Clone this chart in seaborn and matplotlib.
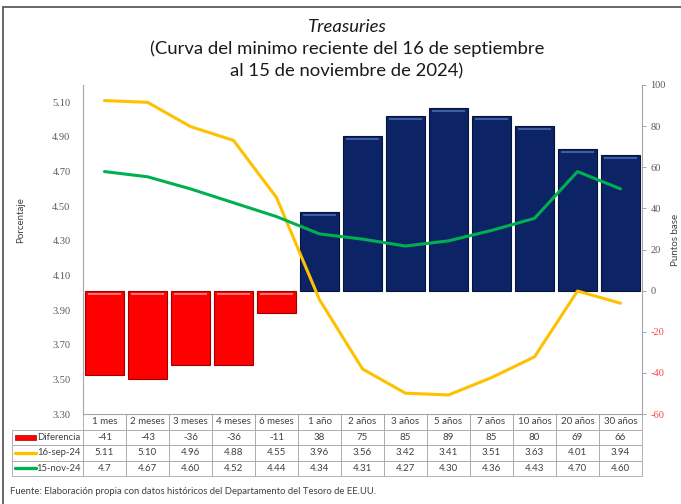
import numpy as np
import pandas as pd
import matplotlib
matplotlib.use("Agg")
import matplotlib.pyplot as plt
import seaborn as sns
from matplotlib.lines import Line2D
from matplotlib.patches import Rectangle

# --- data -------------------------------------------------------------
categories = ["1 mes", "2 meses", "3 meses", "4 meses", "6 meses", "1 año", "2 años",
              "3 años", "5 años", "7 años", "10 años", "20 años", "30 años"]
diferencia = [-41, -43, -36, -36, -11, 38, 75, 85, 89, 85, 80, 69, 66]
sep16_txt = ["5.11", "5.10", "4.96", "4.88", "4.55", "3.96", "3.56",
             "3.42", "3.41", "3.51", "3.63", "4.01", "3.94"]
nov15_txt = ["4.7", "4.67", "4.60", "4.52", "4.44", "4.34", "4.31",
             "4.27", "4.30", "4.36", "4.43", "4.70", "4.60"]
series_names = ["Diferencia", "16-sep-24", "15-nov-24"]
left_ticks = [3.30, 3.50, 3.70, 3.90, 4.10, 4.30, 4.50, 4.70, 4.90, 5.10]
right_ticks = [-60, -40, -20, 0, 20, 40, 60, 80, 100]

sep16 = [float(s) for s in sep16_txt]
nov15 = [float(s) for s in nov15_txt]

# --- style ------------------------------------------------------------
sns.set_theme(style="white")
plt.rcParams["font.family"] = ["Lato", "DejaVu Sans"]

RED, RED_EDGE, RED_HI = "#ff0000", "#a00000", "#ff8a8a"
NAVY, NAVY_EDGE, NAVY_HI = "#0c2466", "#06143c", "#4a68b0"
YELLOW, GREEN = "#ffc000", "#00b050"
GRID_GRAY = "#a6a6a6"
TXT = "#404040"

W, H = 681, 504
fig = plt.figure(figsize=(W / 100, H / 100), dpi=100)
fig.patch.set_facecolor("white")


def fx(px):
    return px / W


def fy(py):
    return 1 - py / H


AX_L, AX_R, AX_T, AX_B = 83, 642, 85, 414
ax_b = fig.add_axes([fx(AX_L), fy(AX_B), fx(AX_R - AX_L), (AX_B - AX_T) / H])
ax_l = ax_b.twinx()  # yields (left scale), drawn above the bars

# --- bars: difference in basis points (right scale) --------------------
df = pd.DataFrame({"plazo": categories, "dif": diferencia,
                   "signo": ["neg" if d < 0 else "pos" for d in diferencia]})
sns.barplot(data=df, x="plazo", y="dif", hue="signo",
            palette={"neg": RED, "pos": NAVY}, dodge=False, width=0.9,
            ax=ax_b, legend=False, saturation=1)
ax_b.set_ylim(-60, 100)
ax_b.set_xlim(-0.5, len(categories) - 0.5)

px_unit = 160 / (AX_B - AX_T)  # data units per pixel on the bar scale
for p in list(ax_b.patches):
    h = p.get_height()
    if h == 0:
        continue
    neg = h < 0
    p.set_edgecolor(RED_EDGE if neg else NAVY_EDGE)
    p.set_linewidth(0.8)
    x0, w = p.get_x(), p.get_width()
    top = max(p.get_y(), p.get_y() + h)
    ax_b.add_patch(Rectangle((x0 + 0.07 * w, top - 4.0 * px_unit), 0.86 * w, 2.0 * px_unit,
                             facecolor=RED_HI if neg else NAVY_HI, edgecolor="none",
                             alpha=0.85, zorder=p.get_zorder() + 0.1))

ax_b.yaxis.tick_right()
ax_b.yaxis.set_label_position("right")
ax_b.set_yticks(right_ticks)
ax_b.set_yticklabels([str(t) for t in right_ticks], family="Liberation Serif", fontsize=7.5)
for lab, t in zip(ax_b.get_yticklabels(), right_ticks):
    lab.set_color("#ff4040" if t < 0 else "#595959")
ax_b.tick_params(axis="y", which="both", left=False, right=True, labelleft=False,
                 labelright=True, length=3, width=0.7, color=GRID_GRAY, pad=3)
ax_b.set_ylabel("Puntos base", fontsize=7, color=TXT, rotation=90)
ax_b.yaxis.set_label_coords(1.052, 0.53)
ax_b.set_xticks(range(len(categories)))
ax_b.set_xticklabels([])
ax_b.tick_params(axis="x", length=0)
ax_b.set_xlabel("")

# --- lines: yields in percent (left scale) ----------------------------
xpos = np.arange(len(categories))
sns.lineplot(x=xpos, y=sep16, ax=ax_l, color=YELLOW, linewidth=2.2, sort=False)
sns.lineplot(x=xpos, y=nov15, ax=ax_l, color=GREEN, linewidth=2.2, sort=False)
ax_l.set_ylim(3.30, 5.20)
ax_l.set_xlim(-0.5, len(categories) - 0.5)
ax_l.yaxis.tick_left()
ax_l.yaxis.set_label_position("left")
ax_l.set_yticks(left_ticks)
ax_l.set_yticklabels([f"{t:.2f}" for t in left_ticks], family="Liberation Serif",
                     fontsize=7.5, color="#595959")
ax_l.tick_params(axis="y", left=False, right=False, labelleft=True, labelright=False,
                 length=0, pad=9)
ax_l.set_ylabel("Porcentaje", fontsize=7, color=TXT)
ax_l.yaxis.set_label_coords(-0.104, 0.59)

for a in (ax_b, ax_l):
    for s in a.spines.values():
        s.set_color(GRID_GRAY)
        s.set_linewidth(0.8)
    a.spines["top"].set_visible(False)
ax_b.spines["left"].set_visible(False)
ax_l.spines["bottom"].set_visible(False)
ax_l.spines["right"].set_visible(False)

# --- data table under the plot ----------------------------------------
TB_L, TB_T, TB_B = 12, 414, 476
rows = [[series_names[0]] + [str(d) for d in diferencia],
        [series_names[1]] + sep16_txt,
        [series_names[2]] + nov15_txt]
col_w = [(AX_L - TB_L)] + [(AX_R - AX_L) / len(categories)] * len(categories)
tbl = ax_b.table(cellText=rows, colLabels=[""] + categories, colWidths=col_w,
                 cellLoc="center",
                 bbox=[(TB_L - AX_L) / (AX_R - AX_L), (AX_B - TB_B) / (AX_B - AX_T),
                       (AX_R - TB_L) / (AX_R - AX_L), (TB_B - TB_T) / (AX_B - AX_T)])
tbl.auto_set_font_size(False)
for (r, c), cell in tbl.get_celld().items():
    cell.set_edgecolor(GRID_GRAY)
    cell.set_linewidth(0.6)
    cell.get_text().set_fontsize(7)
    cell.get_text().set_color(TXT)
    if r == 0:
        cell.visible_edges = "BLR"
    if r == 0 and c == 0:
        cell.visible_edges = ""
    if c == 0 and r > 0:
        cell._loc = "right"
        cell.PAD = 0.03
        cell.get_text().set_horizontalalignment("right")
        cell.get_text().set_fontsize(6.8)

# legend keys in the row-label cells
row_h = (TB_B - TB_T) / 4
for i, name in enumerate(series_names):
    cy = TB_T + row_h * (i + 1.5)
    if i == 0:
        fig.patches.append(Rectangle((fx(15), fy(cy + 2.5)), fx(21), 5 / H,
                                     facecolor=RED, edgecolor=RED_EDGE, linewidth=0.5,
                                     transform=fig.transFigure, figure=fig))
    else:
        fig.lines.append(Line2D([fx(15), fx(36)], [fy(cy), fy(cy)],
                                color=YELLOW if i == 1 else GREEN, linewidth=2.4,
                                transform=fig.transFigure, figure=fig))

# --- titles, source and frame -----------------------------------------
TITLE_FS = 13.3
fig.text(fx(347), fy(27), "Treasuries", ha="center", va="center", fontsize=TITLE_FS,
         style="italic", color="#1a1a1a")
fig.text(fx(347), fy(49), "(Curva del minimo reciente del 16 de septiembre",
         ha="center", va="center", fontsize=TITLE_FS, color="#1a1a1a")
fig.text(fx(347), fy(71), "al 15 de noviembre de 2024)",
         ha="center", va="center", fontsize=TITLE_FS, color="#1a1a1a")
fig.text(fx(10), fy(492), "Fuente: Elaboración propia con datos históricos del "
         "Departamento del Tesoro de EE.UU.", ha="left", va="center",
         fontsize=6.8, color=TXT)

fig.lines.append(Line2D([fx(3), 1], [fy(7), fy(7)], color="#5a5a5a", linewidth=1.3,
                        transform=fig.transFigure, figure=fig))
fig.lines.append(Line2D([fx(3), fx(3)], [fy(7), 0], color="#5a5a5a", linewidth=1.3,
                        transform=fig.transFigure, figure=fig))

fig.savefig("out.png", dpi=100, facecolor="white")
